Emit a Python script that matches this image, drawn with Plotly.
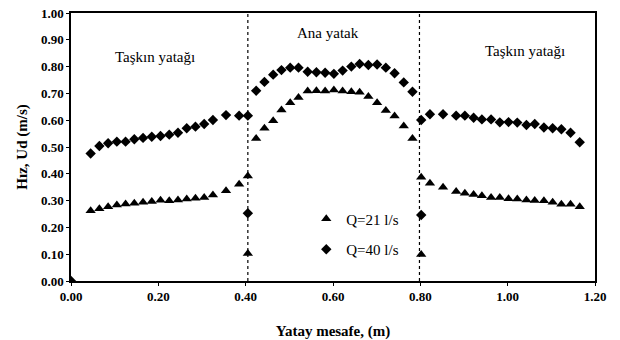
import plotly.graph_objects as go

# ---- data ----
x_left = [0.045, 0.065, 0.085, 0.105, 0.125, 0.145, 0.165, 0.185, 0.205, 0.225,
          0.245, 0.265, 0.285, 0.305, 0.325, 0.355, 0.385]
q21_left = [0.262, 0.270, 0.277, 0.284, 0.287, 0.290, 0.294, 0.297, 0.301, 0.299,
            0.302, 0.306, 0.309, 0.312, 0.321, 0.337, 0.361]
q40_left = [0.476, 0.504, 0.514, 0.520, 0.520, 0.529, 0.534, 0.538, 0.541, 0.546,
            0.553, 0.570, 0.576, 0.586, 0.601, 0.619, 0.617]

x_main = [0.405, 0.424, 0.443, 0.463, 0.482, 0.502, 0.521, 0.542, 0.562, 0.582, 0.602,
          0.622, 0.642, 0.661, 0.681, 0.701, 0.721, 0.741, 0.762, 0.782, 0.802]
q21_main = [0.392, 0.532, 0.570, 0.598, 0.638, 0.665, 0.685, 0.709, 0.710, 0.709, 0.713,
            0.709, 0.706, 0.704, 0.688, 0.665, 0.636, 0.616, 0.578, 0.532, 0.387]
q40_main = [0.617, 0.710, 0.743, 0.770, 0.787, 0.796, 0.796, 0.781, 0.779, 0.777, 0.773,
            0.785, 0.800, 0.810, 0.806, 0.808, 0.796, 0.775, 0.741, 0.706, 0.601]

x_right = [0.822, 0.852, 0.882, 0.902, 0.922, 0.941, 0.962, 0.982, 1.002, 1.022,
           1.043, 1.062, 1.083, 1.103, 1.123, 1.144, 1.165]
q21_right = [0.365, 0.350, 0.334, 0.327, 0.323, 0.318, 0.312, 0.312, 0.307, 0.306,
             0.302, 0.300, 0.299, 0.294, 0.286, 0.286, 0.277]
q40_right = [0.622, 0.622, 0.617, 0.617, 0.609, 0.603, 0.603, 0.592, 0.593, 0.591,
             0.582, 0.586, 0.573, 0.570, 0.566, 0.553, 0.518]

# points on the channel walls (near bed) and at origin
x_wall = [0.405, 0.802]
q21_wall = [0.103, 0.099]
q40_wall = [0.253, 0.246]
x_origin = [0.0]
v_origin = [0.0]

walls = [0.405, 0.798]

labels_region = ["Taşkın yatağı", "Ana yatak", "Taşkın yatağı"]
label_x = [0.193, 0.589, 1.040]
label_y = [0.835, 0.925, 0.860]

x_ticks = [0.0, 0.2, 0.4, 0.6, 0.8, 1.0, 1.2]
y_ticks = [0.0, 0.1, 0.2, 0.3, 0.4, 0.5, 0.6, 0.7, 0.8, 0.9, 1.0]

serif = "Liberation Serif, Times New Roman, serif"

fig = go.Figure()
fig.add_trace(go.Scatter(
    x=x_left + x_main + x_right + x_wall + x_origin,
    y=q21_left + q21_main + q21_right + q21_wall + v_origin,
    mode="markers", name="Q=21 l/s", legendgroup="a",
    marker=dict(symbol="triangle-up", size=9, color="black"),
))
fig.add_trace(go.Scatter(
    x=x_left + x_main + x_right + x_wall + x_origin,
    y=q40_left + q40_main + q40_right + q40_wall + v_origin,
    mode="markers", name="Q=40 l/s", legendgroup="b",
    marker=dict(symbol="diamond", size=8, color="black"),
))

for w in walls:
    fig.add_shape(type="line", xref="x", yref="y", x0=w, x1=w, y0=0, y1=1,
                  line=dict(color="black", width=1.2, dash="dot"))

for t, lx, ly in zip(labels_region, label_x, label_y):
    fig.add_annotation(x=lx, y=ly, xref="x", yref="y", text=t, showarrow=False,
                       font=dict(family=serif, size=15, color="black"))

fig.update_layout(
    width=620, height=340,
    margin=dict(l=71, r=25, t=13, b=59),
    paper_bgcolor="white", plot_bgcolor="white",
    font=dict(family=serif, color="black"),
    legend=dict(x=0.449, y=0.293, xanchor="left", yanchor="top",
                font=dict(family=serif, size=15, color="black"),
                bgcolor="rgba(0,0,0,0)", traceorder="grouped", tracegroupgap=8),
)
fig.update_xaxes(
    range=[0, 1.2], tickvals=x_ticks, tickformat=".2f", automargin=False,
    showgrid=False, zeroline=False, showline=True, linecolor="black", linewidth=1.5,
    mirror=True, ticks="outside", ticklen=3, tickcolor="black",
    tickfont=dict(family=serif, size=13, weight="bold", color="black"),
    ticklabelstandoff=0, ticklabeloverflow="allow",
    title=dict(text="Yatay mesafe, (m)", standoff=26,
               font=dict(family=serif, size=15, weight="bold", color="black")),
)
fig.update_yaxes(
    range=[0, 1.0], tickvals=y_ticks, tickformat=".2f", automargin=False,
    showgrid=False, zeroline=False, showline=True, linecolor="black", linewidth=1.5,
    mirror=True, ticks="outside", ticklen=3, tickcolor="black",
    tickfont=dict(family=serif, size=13, weight="bold", color="black"),
    ticklabeloverflow="allow",
    title=dict(text="Hız, Ud (m/s)", standoff=10,
               font=dict(family=serif, size=15, weight="bold", color="black")),
)

# remove the browser's default 8px page margin so the figure fills the window
fig.write_html("out.html", config={"displayModeBar": False},
               post_script="document.body.style.margin='0';")
